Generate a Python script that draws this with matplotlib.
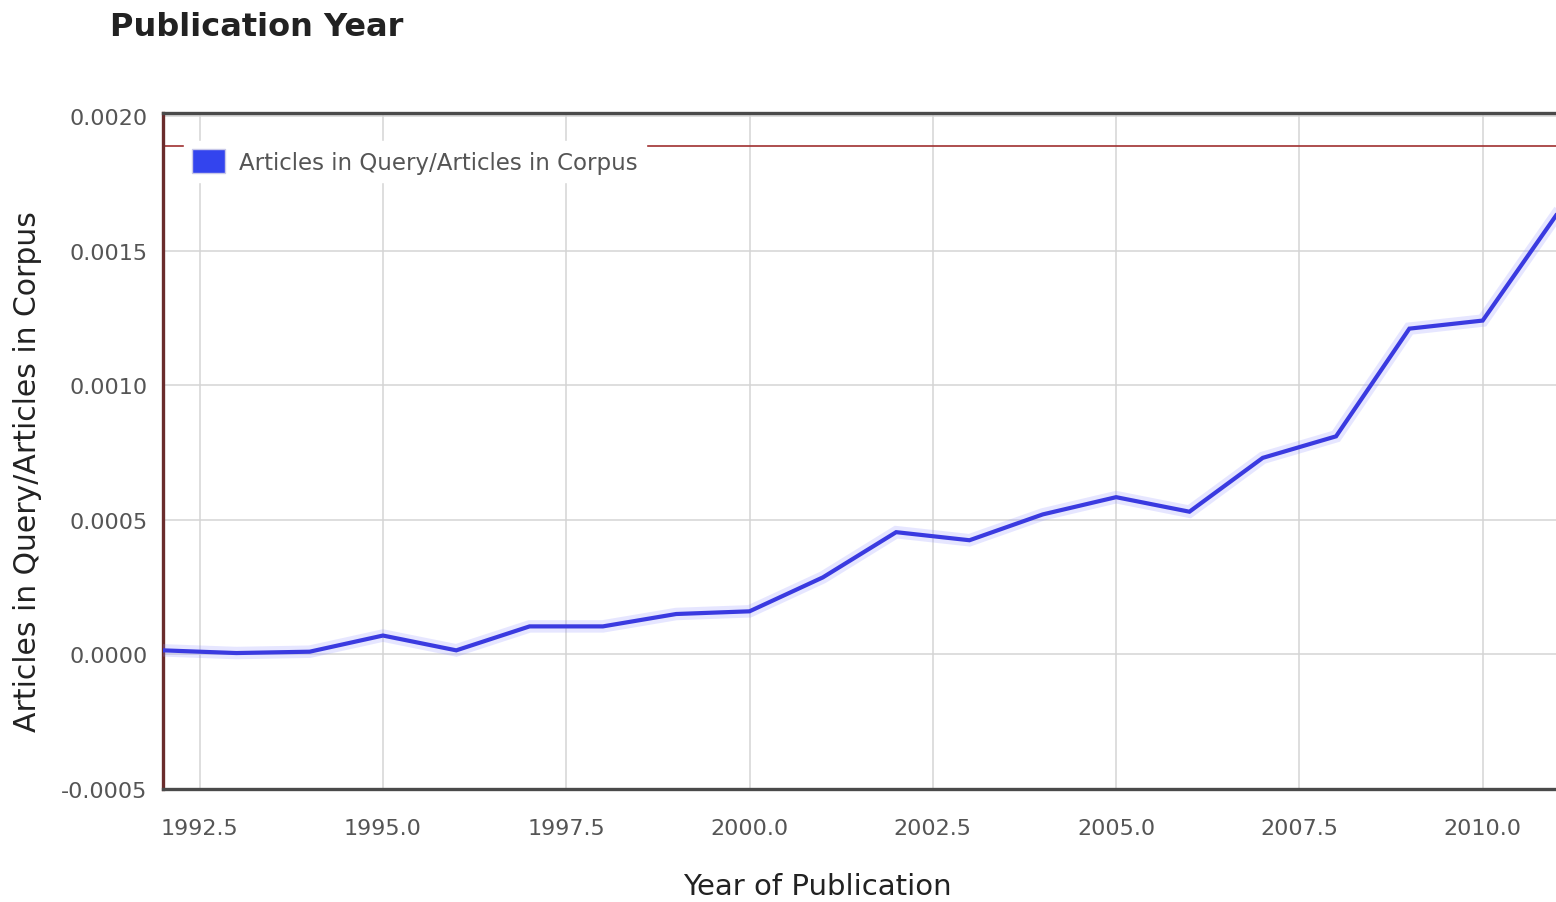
import matplotlib
matplotlib.use("Agg")
import matplotlib.pyplot as plt
from matplotlib.patches import Patch

years = [1992, 1993, 1994, 1995, 1996, 1997, 1998, 1999, 2000, 2001,
         2002, 2003, 2004, 2005, 2006, 2007, 2008, 2009, 2010, 2011]
ratio = [0.000015, 0.000005, 0.00001, 0.00007, 0.000015, 0.000104, 0.000104,
         0.00015, 0.00016, 0.000286, 0.000454, 0.000424, 0.00052, 0.000584,
         0.00053, 0.00073, 0.00081, 0.00121, 0.00124, 0.00163]
x_ticks = [1992.5, 1995.0, 1997.5, 2000.0, 2002.5, 2005.0, 2007.5, 2010.0]
y_ticks = [-0.0005, 0.0, 0.0005, 0.0010, 0.0015, 0.0020]
ref_line = 0.00189
series_label = "Articles in Query/Articles in Corpus"

fig = plt.figure(figsize=(15.56, 9.03), dpi=100)
ax = fig.add_axes([163/1556, 1-790/903, 1-163/1556, (790-114)/903])

ax.set_xlim(1992, 2011)
ax.set_ylim(-0.0005, 0.002011)
ax.set_xticks(x_ticks)
ax.set_xticklabels([f"{v:.1f}" for v in x_ticks])
ax.set_yticks(y_ticks)
ax.set_yticklabels([f"{v:.4f}" for v in y_ticks])
ax.grid(True, color="#d4d4d4", linewidth=1.1)
ax.set_axisbelow(True)
ax.tick_params(axis="both", length=0, labelsize=16, labelcolor="#555555")
ax.tick_params(axis="x", pad=21)
ax.tick_params(axis="y", pad=11)

for s in ["top", "bottom"]:
    ax.spines[s].set_color("#4a4a4a")
    ax.spines[s].set_linewidth(2.4)
ax.spines["left"].set_color("#6a2c2c")
ax.spines["left"].set_linewidth(2.4)
ax.spines["right"].set_visible(False)

ax.axhline(ref_line, color="#a03030", linewidth=1.2, zorder=2)

ax.plot(years, ratio, color="#9090ff", linewidth=9, alpha=0.22,
        solid_joinstyle="miter", zorder=3)
ax.plot(years, ratio, color="#3a3ae0", linewidth=3, zorder=4,
        solid_joinstyle="miter")

handle = Patch(facecolor="#3344ee", edgecolor="#c8c8e8", linewidth=1)
leg = ax.legend([handle], [series_label], loc="upper left",
                bbox_to_anchor=(0.007, 0.975), frameon=True, fontsize=16.5,
                handlelength=1.45, handleheight=1.2, handletextpad=0.6,
                borderpad=0.35, fancybox=False)
leg.get_frame().set_facecolor("white")
leg.get_frame().set_edgecolor("white")
leg.get_frame().set_alpha(1.0)
for t in leg.get_texts():
    t.set_color("#555555")
leg.set_zorder(5)

fig.text(110/1556, 1-27/903, "Publication Year", fontsize=23,
         fontweight="bold", ha="left", va="center", color="#222222")
fig.text(817/1556, 1-887/903, "Year of Publication", fontsize=21,
         ha="center", va="center", color="#222222")
fig.text(28/1556, 1-472/903, "Articles in Query/Articles in Corpus",
         fontsize=21.5, rotation=90, ha="center", va="center", color="#222222")

fig.savefig("out.png", dpi=100)
